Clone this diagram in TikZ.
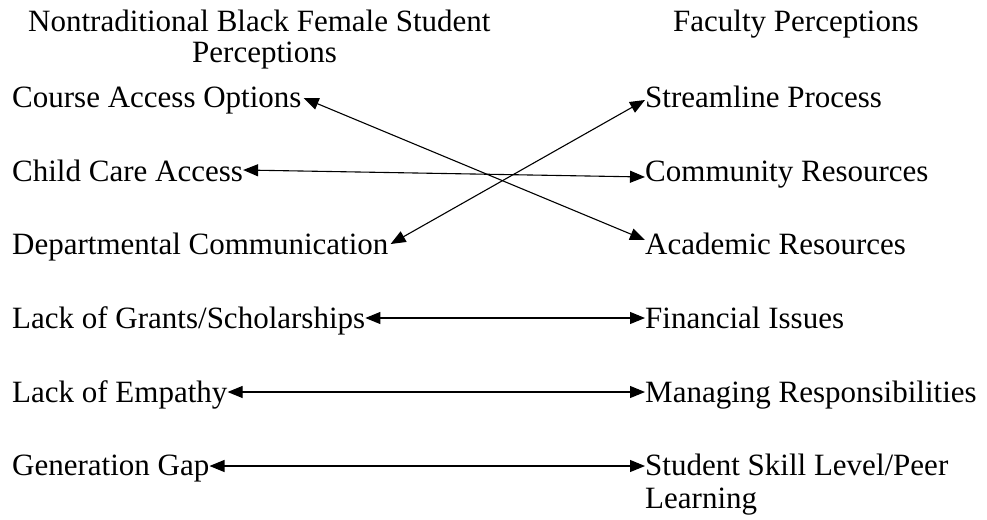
\documentclass[tikz,border=0pt]{standalone}
\usepackage{fontspec}
\setmainfont{Liberation Serif}
\usepackage{tikz}
\usetikzlibrary{arrows.meta}
\usetikzlibrary{positioning}
\tikzset{
	item/.style={
		anchor=base west,
		inner sep=0pt,
		font=\fontsize{31}{34}\selectfont,
	},
	link/.style={
		{Triangle[length=15pt,width=12pt]}-{Triangle[length=15pt,width=12pt]},
		line width=1.1pt,
	},
}

\begin{document}
\begin{tikzpicture}[x=1pt,y=-1pt]
			\useasboundingbox (0,0) rectangle (987,519);
			% Headings
			\node[item] (hl) at (28,32) {Nontraditional Black Female Student};
			\node[item] (hlb) at (192,63) {Perceptions};
			\node[item] (hr) at (673,32) {Faculty Perceptions};
			
			% Student perceptions
			\node[item] (l1) at (12,107) {Course Access Options};
			\node[item] (l2) at (12,181) {Child Care Access};
			\node[item] (l3) at (12,254) {Departmental Communication};
			\node[item] (l4) at (12,328) {Lack of Grants/Scholarships};
			\node[item] (l5) at (12,402) {Lack of Empathy};
			\node[item] (l6) at (12,475) {Generation Gap};
			
			% Faculty perceptions
			\node[item] (r1) at (645,107) {Streamline Process};
			\node[item] (r2) at (645,181) {Community Resources};
			\node[item] (r3) at (645,254) {Academic Resources};
			\node[item] (r4) at (645,328) {Financial Issues};
			\node[item] (r5) at (645,402) {Managing Responsibilities};
			\node[item] (r6) at (645,475) {Student Skill Level/Peer};
			\node[item] (r6b) at (645,508) {Learning};
			
			% Draw arrows between the lists
			\draw[link] ([shift={(2pt,9pt)}]l1.base east) -- ([yshift=14pt]r3.base west);
			\draw[link] ([yshift=11pt]l2.base east) -- ([yshift=4pt]r2.base west);
			\draw[link] ([shift={(2pt,10pt)}]l3.base east) -- ([yshift=7pt]r1.base west);
			\draw[link] ([yshift=10pt]l4.base east) -- ([yshift=10pt]r4.base west);
			\draw[link] ([yshift=10pt]l5.base east) -- ([yshift=10pt]r5.base west);
			\draw[link] ([yshift=9pt]l6.base east) -- ([yshift=9pt]r6.base west);
		\end{tikzpicture}
\end{document}
